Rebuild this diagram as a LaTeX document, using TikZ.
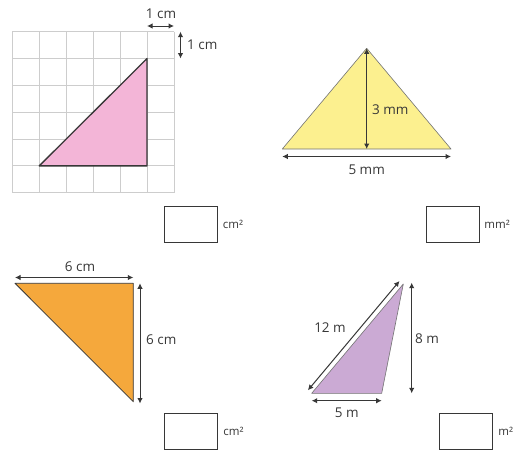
\documentclass[tikz,border=0pt]{standalone}
\usepackage{fontspec}
\setmainfont{Open Sans}
\usetikzlibrary{arrows.meta}
\definecolor{ink}{RGB}{55,55,55}
\definecolor{gridc}{RGB}{205,205,205}
\definecolor{pinkf}{RGB}{243,181,215}
\definecolor{yellowf}{RGB}{252,240,143}
\definecolor{orangef}{RGB}{245,168,60}
\definecolor{purplef}{RGB}{203,170,212}
\tikzset{
  gridline/.style={draw=gridc, line width=0.9pt},
  shape1/.style={draw=ink, line width=1.3pt, line join=round},
  dim/.style={draw=ink, line width=1pt, {Latex[length=5.5pt,width=5.5pt]}-{Latex[length=5.5pt,width=5.5pt]}},
  lbl/.style={text=ink, font=\fontsize{13.5}{15}\selectfont, inner sep=1pt},
  ansbox/.style={draw=ink, line width=0.8pt, minimum width=53pt, minimum height=36pt, inner sep=0pt},
  unit/.style={text=ink, font=\fontsize{11.5}{13}\selectfont, inner sep=0pt, anchor=west}
}
\begin{document}
\begin{tikzpicture}[x=1pt,y=-1pt]
\useasboundingbox[fill=white] (0,0) rectangle (523,450);
% grid
\foreach \i in {0,...,6} \draw[gridline] ({12.3+\i*26.95},31.7) -- ({12.3+\i*26.95},192.7);
\foreach \j in {0,...,6} \draw[gridline] (12.3,{31.7+\j*26.83}) -- (174,{31.7+\j*26.83});
% pink triangle
\coordinate (pA) at (39.25,165.85);
\coordinate (pB) at (147.05,165.85);
\coordinate (pC) at (147.05,58.53);
\fill[pinkf] (pA) -- (pB) -- (pC) -- cycle;
\draw[shape1] (pA) -- (pB) -- (pC) -- cycle;
\coordinate (h1a) at (147.05,26);
\coordinate (h1b) at (174,26);
\draw[dim] (h1a) -- (h1b);
\node[lbl] (h1l) at (161,14) {1 cm};
\coordinate (v1a) at (180.5,31.7);
\coordinate (v1b) at (180.5,58.53);
\draw[dim] (v1a) -- (v1b);
\node[lbl, anchor=west] (v1l) at (186,44.5) {1 cm};
% yellow triangle
\coordinate (yA) at (282.3,149);
\coordinate (yB) at (451,149);
\coordinate (yC) at (366.7,48.3);
\coordinate (yH) at (366.7,149);
\fill[yellowf] (yA) -- (yB) -- (yC) -- cycle;
\draw[draw=ink!70, line width=0.6pt, line join=round] (yA) -- (yB) -- (yC) -- cycle;
\draw[dim] (yC) -- (yH);
\node[lbl, anchor=west] (y3) at (371,110) {3 mm};
\coordinate (yba) at (282.3,156.5);
\coordinate (ybb) at (451,156.5);
\draw[dim] (yba) -- (ybb);
\node[lbl] (y5) at (366.7,170) {5 mm};
% answer boxes top
\node[ansbox] (b1) at (190.8,224) {};
\node[unit] (u1) at ([xshift=5pt]b1.east) {cm²};
\node[ansbox] (b2) at (453.3,224) {};
\node[unit] (u2) at ([xshift=4pt]b2.east) {mm²};
% orange triangle
\coordinate (oA) at (15,283.3);
\coordinate (oB) at (133.3,283.3);
\coordinate (oC) at (133.3,401.7);
\fill[orangef] (oA) -- (oB) -- (oC) -- cycle;
\draw[draw=ink, line width=0.8pt, line join=round] (oA) -- (oB) -- (oC) -- cycle;
\coordinate (oha) at (15,277.5);
\coordinate (ohb) at (133.3,277.5);
\draw[dim] (oha) -- (ohb);
\node[lbl] (o6a) at (80,266.5) {6 cm};
\coordinate (ova) at (140,283.3);
\coordinate (ovb) at (140,403.5);
\draw[dim] (ova) -- (ovb);
\node[lbl, anchor=west] (o6b) at (145,340) {6 cm};
\node[ansbox] (b3) at (191.3,431.3) {};
\node[unit] (u3) at ([xshift=5pt]b3.east) {cm²};
% purple triangle
\coordinate (qA) at (311.7,393.3);
\coordinate (qB) at (381.7,393.3);
\coordinate (qC) at (403.3,284);
\fill[purplef] (qA) -- (qB) -- (qC) -- cycle;
\draw[draw=ink!70, line width=0.6pt, line join=round] (qA) -- (qB) -- (qC) -- cycle;
\coordinate (qda) at (307.9,390.3);
\coordinate (qdb) at (399.5,281);
\draw[dim] (qda) -- (qdb);
\node[lbl] (q12) at (330,328) {12 m};
\coordinate (qva) at (411.7,282.7);
\coordinate (qvb) at (411.7,393.3);
\draw[dim] (qva) -- (qvb);
\node[lbl, anchor=west] (q8) at (414,339) {8 m};
\coordinate (qha) at (311.7,400.7);
\coordinate (qhb) at (381.7,400.7);
\draw[dim] (qha) -- (qhb);
\node[lbl] (q5) at (346.7,412.5) {5 m};
\node[ansbox] (b4) at (466.3,431.3) {};
\node[unit] (u4) at ([xshift=5pt]b4.east) {m²};
\end{tikzpicture}
\end{document}
